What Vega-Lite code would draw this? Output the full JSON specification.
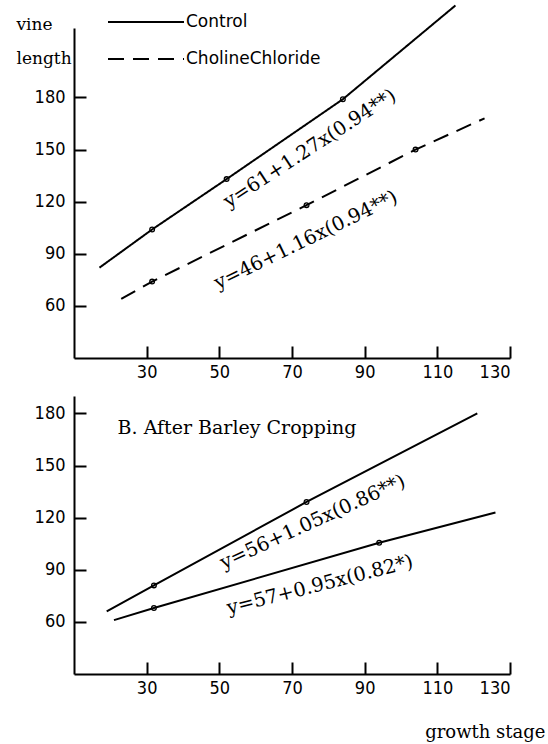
{
  "$schema": "https://vega.github.io/schema/vega-lite/v6.json",
  "padding": {"left": 16, "top": 1, "right": 3, "bottom": 3},
  "background": "white",
  "spacing": 15,
  "config": {
    "view": {"stroke": null},
    "font": "Liberation Serif",
    "axis": {
      "domainColor": "black", "domainWidth": 2,
      "tickColor": "black", "tickWidth": 2, "tickSize": -12,
      "grid": false,
      "labelFont": "DejaVu Sans Condensed, Liberation Sans, sans-serif",
      "labelFontSize": 18, "labelColor": "black",
      "titleColor": "black", "titleFont": "DejaVu Serif", "titleFontWeight": "normal", "titleFontSize": 17
    }
  },
  "datasets": {
    "top": [
      {"stage": 17, "length": 82, "series": "Control", "obs": false},
      {"stage": 31.5, "length": 104, "series": "Control", "obs": true},
      {"stage": 52, "length": 133, "series": "Control", "obs": true},
      {"stage": 84, "length": 179, "series": "Control", "obs": true},
      {"stage": 115, "length": 233, "series": "Control", "obs": false},
      {"stage": 23, "length": 64, "series": "CholineChloride", "obs": false},
      {"stage": 31.5, "length": 74, "series": "CholineChloride", "obs": true},
      {"stage": 74, "length": 118, "series": "CholineChloride", "obs": true},
      {"stage": 104, "length": 150, "series": "CholineChloride", "obs": true},
      {"stage": 123, "length": 168, "series": "CholineChloride", "obs": false}
    ],
    "bottom": [
      {"stage": 19, "length": 66, "series": "Control", "obs": false},
      {"stage": 32, "length": 81, "series": "Control", "obs": true},
      {"stage": 74, "length": 129, "series": "Control", "obs": true},
      {"stage": 121, "length": 180, "series": "Control", "obs": false},
      {"stage": 21, "length": 61, "series": "CholineChloride", "obs": false},
      {"stage": 32, "length": 68, "series": "CholineChloride", "obs": true},
      {"stage": 94, "length": 105.5, "series": "CholineChloride", "obs": true},
      {"stage": 126, "length": 123, "series": "CholineChloride", "obs": false}
    ]
  },
  "vconcat": [
    {
      "width": 436,
      "height": 330,
      "layer": [
        {
          "data": {"name": "top"},
          "mark": {"type": "line", "color": "black", "strokeWidth": 2},
          "encoding": {
            "x": {"field": "stage", "type": "quantitative",
              "scale": {"domain": [10, 130], "nice": false, "zero": false},
              "axis": {"values": [30, 50, 70, 90, 110, 130], "title": null, "labelPadding": 17}},
            "y": {"field": "length", "type": "quantitative",
              "scale": {"domain": [30, 220], "nice": false, "zero": false},
              "axis": {"values": [60, 90, 120, 150, 180], "title": ["vine", "length"],
                "titleAngle": 0, "titleX": -58, "titleY": 1, "titleAlign": "left",
                "titleBaseline": "alphabetic", "titleLineHeight": 34, "labelPadding": 21}},
            "strokeDash": {"field": "series", "type": "nominal",
              "scale": {"domain": ["Control", "CholineChloride"], "range": [[1, 0], [16, 9]]},
              "legend": {"orient": "none", "legendX": 33, "legendY": -16, "title": null,
                "symbolType": "stroke", "symbolSize": 5776, "symbolStrokeWidth": 1.8,
                "clipHeight": 20,
                "symbolStrokeColor": "black", "labelFont": "DejaVu Sans", "labelFontSize": 17,
                "labelColor": "black", "labelOffset": 1, "rowPadding": 17}}
          }
        },
        {
          "data": {"name": "top"},
          "transform": [{"filter": "datum.obs"}],
          "mark": {"type": "point", "shape": "circle", "filled": false, "color": "black", "size": 22, "strokeWidth": 1.3, "opacity": 1},
          "encoding": {
            "x": {"field": "stage", "type": "quantitative"},
            "y": {"field": "length", "type": "quantitative"}
          }
        },
        {
          "data": {"values": [{"stage": 74.9, "length": 150.6, "label": "y=61+1.27x(0.94**)"}]},
          "mark": {"type": "text", "angle": -33, "font": "DejaVu Serif", "fontSize": 19.5, "align": "center", "baseline": "middle", "color": "black"},
          "encoding": {
            "x": {"field": "stage", "type": "quantitative"},
            "y": {"field": "length", "type": "quantitative"},
            "text": {"field": "label"}
          }
        },
        {
          "data": {"values": [{"stage": 73.8, "length": 97.9, "label": "y=46+1.16x(0.94**)"}]},
          "mark": {"type": "text", "angle": -26, "font": "DejaVu Serif", "fontSize": 19.5, "align": "center", "baseline": "middle", "color": "black"},
          "encoding": {
            "x": {"field": "stage", "type": "quantitative"},
            "y": {"field": "length", "type": "quantitative"},
            "text": {"field": "label"}
          }
        }
      ]
    },
    {
      "width": 436,
      "height": 278,
      "layer": [
        {
          "data": {"name": "bottom"},
          "mark": {"type": "line", "color": "black", "strokeWidth": 2},
          "encoding": {
            "x": {"field": "stage", "type": "quantitative",
              "scale": {"domain": [10, 130], "nice": false, "zero": false},
              "axis": {"values": [30, 50, 70, 90, 110, 130], "title": "growth stage", "labelPadding": 17,
                "titleX": 471, "titleY": 58, "titleAlign": "right", "titleBaseline": "middle", "titleFontSize": 18}},
            "y": {"field": "length", "type": "quantitative",
              "scale": {"domain": [30, 190], "nice": false, "zero": false},
              "axis": {"values": [60, 90, 120, 150, 180], "title": null, "labelPadding": 21}},
            "detail": {"field": "series", "type": "nominal"}
          }
        },
        {
          "data": {"name": "bottom"},
          "transform": [{"filter": "datum.obs"}],
          "mark": {"type": "point", "shape": "circle", "filled": false, "color": "black", "size": 22, "strokeWidth": 1.3, "opacity": 1},
          "encoding": {
            "x": {"field": "stage", "type": "quantitative"},
            "y": {"field": "length", "type": "quantitative"}
          }
        },
        {
          "data": {"values": [{"stage": 22, "length": 171.4, "label": "B. After Barley Cropping"}]},
          "mark": {"type": "text", "font": "DejaVu Serif", "fontSize": 19, "align": "left", "baseline": "middle", "color": "black"},
          "encoding": {
            "x": {"field": "stage", "type": "quantitative"},
            "y": {"field": "length", "type": "quantitative"},
            "text": {"field": "label"}
          }
        },
        {
          "data": {"values": [{"stage": 75.7, "length": 117.5, "label": "y=56+1.05x(0.86**)"}]},
          "mark": {"type": "text", "angle": -24.6, "font": "DejaVu Serif", "fontSize": 19.5, "align": "center", "baseline": "middle", "color": "black"},
          "encoding": {
            "x": {"field": "stage", "type": "quantitative"},
            "y": {"field": "length", "type": "quantitative"},
            "text": {"field": "label"}
          }
        },
        {
          "data": {"values": [{"stage": 77.7, "length": 81.3, "label": "y=57+0.95x(0.82*)"}]},
          "mark": {"type": "text", "angle": -14.3, "font": "DejaVu Serif", "fontSize": 19.5, "align": "center", "baseline": "middle", "color": "black"},
          "encoding": {
            "x": {"field": "stage", "type": "quantitative"},
            "y": {"field": "length", "type": "quantitative"},
            "text": {"field": "label"}
          }
        }
      ]
    }
  ]
}
